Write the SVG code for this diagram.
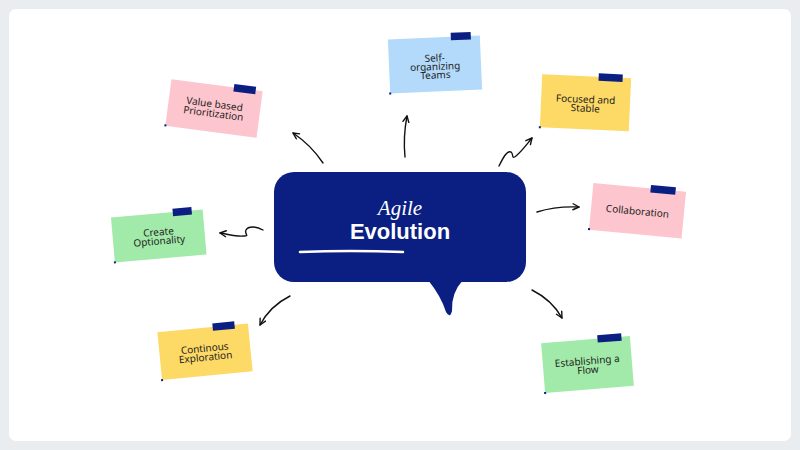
<svg xmlns="http://www.w3.org/2000/svg" width="800" height="450" viewBox="0 0 800 450">
<defs>
<style>
.note-text{font-family:"Noto Sans","Liberation Sans",sans-serif;font-size:10px;fill:#1e1e1e;text-anchor:middle}
.tape{fill:#0b1f82}
.dot{fill:#0b1f82}
.pink{fill:#fdc5cd}
.blue{fill:#b3d9fb}
.yellow{fill:#fdd966}
.green{fill:#a2eaa9}
.conn{fill:none;stroke:#111;stroke-width:1.4;stroke-linecap:round;marker-end:url(#arr)}
</style>
<marker id="arr" viewBox="0 0 8 8" refX="7" refY="4" markerWidth="8" markerHeight="8" markerUnits="userSpaceOnUse" orient="auto">
<path d="M1,1 L7,4 L1,7" fill="none" stroke="#111" stroke-width="1.4" stroke-linecap="round" stroke-linejoin="round"/>
</marker>
</defs>
<rect width="800" height="450" fill="#e9edf0"/>
<rect x="9" y="9" width="782" height="432" rx="7" fill="#ffffff"/>

<g id="center">
<rect x="274" y="172" width="252" height="110" rx="20" fill="#0b1f82"/>
<path d="M428,280 Q441,296 446,312 Q450,319 452,311 Q451,293 463,280 Z" fill="#0b1f82"/>
<text x="400" y="215" font-family="'Liberation Serif',serif" font-style="italic" font-size="21" fill="#ffffff" text-anchor="middle">Agile</text>
<text x="400" y="239" font-family="'Liberation Sans',Arial,sans-serif" font-weight="bold" font-size="22" fill="#ffffff" text-anchor="middle">Evolution</text>
<path d="M300,252 Q350,250 403,252" fill="none" stroke="#ffffff" stroke-width="2.5" stroke-linecap="round"/>
</g>

<g id="connectors">
<path class="conn" d="M323,163 Q311,145 293,133"/>
<path class="conn" d="M405,157 Q403,137 407,116"/>
<path class="conn" d="M499,166 C503,158 507,150 511,152 C514,154 511,160 516,156 C522,151 527,144 532,138"/>
<path class="conn" d="M537,212 Q556,206 579,207"/>
<path class="conn" d="M263,230 C256,226 248,226 246,230 C244,234 250,236 244,236 C236,237 228,234 220,233"/>
<path class="conn" d="M290,296 Q270,306 260,325"/>
<path class="conn" d="M532,290 Q552,300 562,318"/>
</g>

<g id="value-based" transform="translate(214,108.5) rotate(7.5)">
<rect class="pink" x="-46" y="-23.5" width="92" height="47"/>
<rect class="tape" x="17" y="-27" width="22" height="7.5"/>
<rect class="dot" x="-47" y="22" width="2" height="2"/>
<text class="note-text" y="-1">Value based</text>
<text class="note-text" y="8.5">Prioritization</text>
</g>

<g id="self-organizing" transform="translate(435,64.5) rotate(-2.5)">
<rect class="blue" x="-46" y="-27" width="92" height="54"/>
<rect class="tape" x="17" y="-31" width="20" height="7.5"/>
<rect class="dot" x="-47" y="26" width="2" height="2"/>
<text class="note-text" y="-3">Self-</text>
<text class="note-text" y="5.5">organizing</text>
<text class="note-text" y="14">Teams</text>
</g>

<g id="focused" transform="translate(585.5,102.75) rotate(2.6)">
<rect class="yellow" x="-44.5" y="-26.5" width="89" height="53"/>
<rect class="tape" x="12" y="-30" width="24" height="7.5"/>
<rect class="dot" x="-45.5" y="25.5" width="2" height="2"/>
<text class="note-text" y="0">Focused and</text>
<text class="note-text" y="9">Stable</text>
</g>

<g id="create-optionality" transform="translate(158.75,236) rotate(-5)">
<rect class="green" x="-46" y="-22.5" width="92" height="45"/>
<rect class="tape" x="16" y="-26" width="19" height="7.5"/>
<rect class="dot" x="-47" y="21.5" width="2" height="2"/>
<text class="note-text" y="-0.5">Create</text>
<text class="note-text" y="8.5">Optionality</text>
</g>

<g id="collaboration" transform="translate(637.5,210.75) rotate(5.5)">
<rect class="pink" x="-46.5" y="-23.5" width="93" height="47"/>
<rect class="tape" x="11" y="-27" width="25" height="7.5"/>
<rect class="dot" x="-47.5" y="22" width="2" height="2"/>
<text class="note-text" y="4">Collaboration</text>
</g>

<g id="continous-exploration" transform="translate(205,351.75) rotate(-5.6)">
<rect class="yellow" x="-45.5" y="-24" width="91" height="48"/>
<rect class="tape" x="10" y="-27.5" width="22" height="7.5"/>
<rect class="dot" x="-46.5" y="23" width="2" height="2"/>
<text class="note-text" y="0">Continous</text>
<text class="note-text" y="9">Exploration</text>
</g>

<g id="establishing-flow" transform="translate(587.5,364.5) rotate(-4.6)">
<rect class="green" x="-44.5" y="-25" width="89" height="50"/>
<rect class="tape" x="12" y="-28.5" width="24" height="7.5"/>
<rect class="dot" x="-45.5" y="24" width="2" height="2"/>
<text class="note-text" y="0">Establishing a</text>
<text class="note-text" y="9">Flow</text>
</g>
</svg>
